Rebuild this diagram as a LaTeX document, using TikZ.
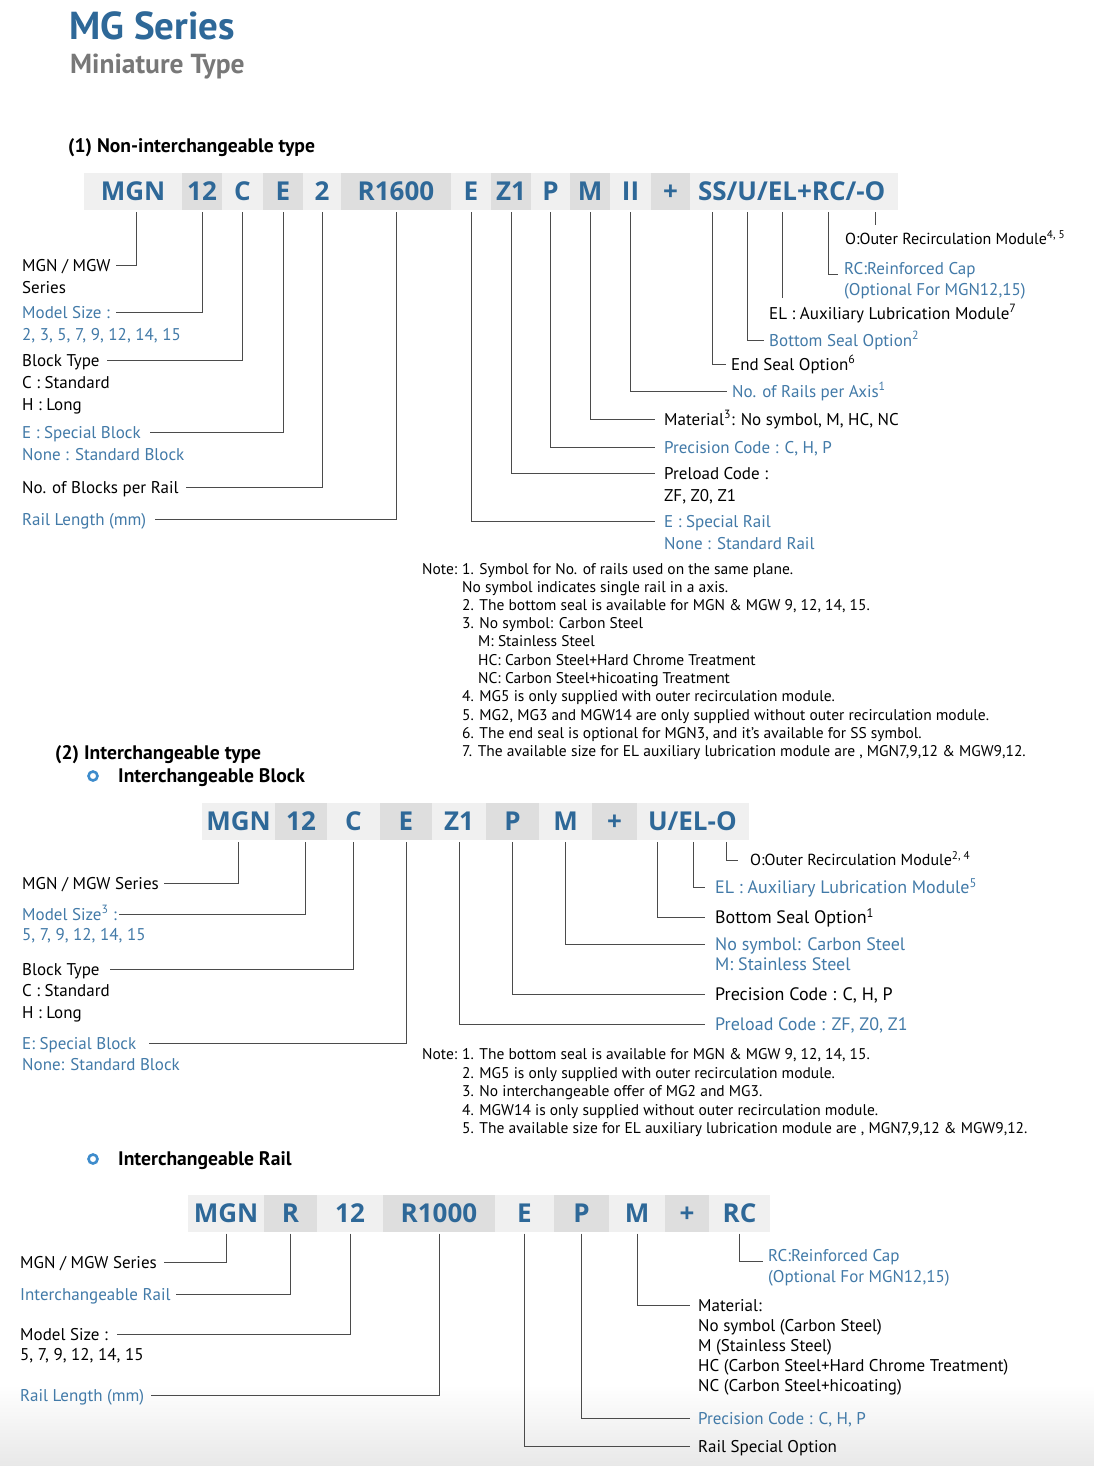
\documentclass[tikz,border=0pt]{standalone}
\usepackage{fontspec}
\setmainfont{PT Sans}
\newfontfamily\codefont{Open Sans}
\usepackage{tikz}
\usetikzlibrary{positioning}
\usepackage{xcolor}

\definecolor{mgblue}{RGB}{46,104,152}
\definecolor{optblue}{RGB}{66,122,168}
\definecolor{ringblue}{RGB}{62,140,204}
\definecolor{subgray}{RGB}{120,120,120}
\definecolor{barlight}{RGB}{240,240,240}
\definecolor{bardark}{RGB}{222,222,222}
\definecolor{leadgray}{RGB}{75,75,75}

\tikzset{
  codebox/.style={inner sep=0pt, outer sep=0pt, text=mgblue, text height=18.5pt, text depth=0pt,
    font=\codefont\bfseries\fontsize{26}{26}\selectfont},
  codel/.style={codebox, fill=barlight, minimum height=37pt},
  coded/.style={codebox, fill=bardark, minimum height=37pt},
  headtxt/.style={anchor=west, inner sep=0pt, text height=13.7pt, text depth=0pt,
    font=\bfseries\fontsize{19.6}{19.6}\selectfont},
  lab/.style={anchor=west, inner sep=0pt, text height=12pt, text depth=0pt, font=\fontsize{17}{17}\selectfont},
  labb/.style={lab, text=optblue},
  smalllab/.style={lab, text height=11.2pt, font=\fontsize{16}{16}\selectfont},
  biglab/.style={lab, text height=12.6pt, font=\fontsize{18}{18}\selectfont},
  biglabb/.style={biglab, text=optblue},
  notetxt/.style={anchor=west, inner sep=0pt, text height=10.8pt, text depth=0pt, font=\fontsize{15.5}{15.5}\selectfont},
  leader/.style={draw=leadgray, line width=1pt, shorten <=2pt},
  ringmark/.style={circle, draw=ringblue, line width=2.6pt, minimum size=9pt, inner sep=0pt},
}

\begin{document}
\begin{tikzpicture}[x=1pt,y=-1pt]
  \useasboundingbox (0,0) rectangle (1094,1466);
  \fill[white] (0,0) rectangle (1094,1466);
  \shade[top color=white, bottom color=black!9] (0,1385) rectangle (1094,1466);

  % titles
  \node[anchor=west, inner sep=0pt, text=mgblue, text height=27pt, text depth=0pt,
        font=\bfseries\fontsize{39}{39}\selectfont] (title) at (69,26) {MG Series};
  \node[anchor=west, inner sep=0pt, text=subgray, text height=19.2pt, text depth=0pt,
        font=\bfseries\fontsize{27.5}{27.5}\selectfont] (subtitle) at (70,64) {Miniature Type};

  % (1) non-interchangeable type
  \node[headtxt] (h1) at (68,146) {(1) Non-interchangeable type};

  \node[codel, minimum width=98pt, anchor=west] (a1) at (84,191.5) {MGN};
  \node[coded, minimum width=40pt, right=0pt of a1] (a2) {12};
  \node[codel, minimum width=41pt, right=0pt of a2] (a3) {C};
  \node[coded, minimum width=40pt, right=0pt of a3] (a4) {E};
  \node[codel, minimum width=38pt, right=0pt of a4] (a5) {2};
  \node[coded, minimum width=110pt, right=0pt of a5] (a6) {R1600};
  \node[codel, minimum width=40pt, right=0pt of a6] (a7) {E};
  \node[coded, minimum width=40pt, right=0pt of a7] (a8) {Z1};
  \node[codel, minimum width=39pt, right=0pt of a8] (a9) {P};
  \node[coded, minimum width=40pt, right=0pt of a9] (a10) {M};
  \node[codel, minimum width=41pt, right=0pt of a10] (a11) {II};
  \node[coded, minimum width=39pt, right=0pt of a11] (a12) {+};
  \node[codel, minimum width=208pt, right=0pt of a12] (a13) {};
  \node[codebox, anchor=west] (ss) at ([xshift=8pt]a13.west) {SS};
  \node[codebox, right=0pt of ss] (sl1) {/};
  \node[codebox, right=0pt of sl1] (u) {U};
  \node[codebox, right=0pt of u] (sl2) {/};
  \node[codebox, right=0pt of sl2] (el) {EL};
  \node[codebox, right=0pt of el] (pl) {+};
  \node[codebox, right=0pt of pl] (rc) {RC};
  \node[codebox, right=0pt of rc] (sl3) {/-};
  \node[codebox, right=0pt of sl3] (o) {O};

  % left labels
  \node[lab] (l1) at (22,265) {MGN / MGW};
  \node[lab] (l1b) at (22,287) {Series};
  \node[labb] (l2) at (22,312) {Model Size :};
  \node[labb] (l2b) at (22,334) {2, 3, 5, 7, 9, 12, 14, 15};
  \node[lab] (l3) at (22,360) {Block Type};
  \node[lab] (l3b) at (22,382) {C : Standard};
  \node[lab] (l3c) at (22,404) {H : Long};
  \node[labb] (l4) at (22,432) {E : Special Block};
  \node[labb] (l4b) at (22,454) {None : Standard Block};
  \node[lab] (l5) at (22,487) {No. of Blocks per Rail};
  \node[labb] (l6) at (22,519) {Rail Length (mm)};

  \draw[leader, shorten >=5pt] ([xshift=3pt]a1.south) |- (l1.east);
  \draw[leader, shorten >=6pt] (a2.south) |- (l2.east);
  \draw[leader, shorten >=7pt] (a3.south) |- (l3.east);
  \draw[leader, shorten >=9pt] (a4.south) |- (l4.east);
  \draw[leader, shorten >=7pt] (a5.south) |- (l5.east);
  \draw[leader, shorten >=9pt] (a6.south) |- (l6.east);

  % right labels
  \node[smalllab] (r1) at (845,239) {O:Outer Recirculation Module\textsuperscript{4, 5}};
  \node[labb] (r2) at (844,268) {RC:Reinforced Cap};
  \node[labb] (r2b) at (844,289) {(Optional For MGN12,15)};
  \node[lab] (r3) at (769,313) {EL : Auxiliary Lubrication Module\textsuperscript{7}};
  \node[labb] (r4) at (769,340) {Bottom Seal Option\textsuperscript{2}};
  \node[lab] (r5) at (731,364) {End Seal Option\textsuperscript{6}};
  \node[labb] (r6) at (732,391) {No. of Rails per Axis\textsuperscript{1}};
  \node[lab] (r7) at (664,419) {Material\textsuperscript{3}: No symbol, M, HC, NC};
  \node[labb] (r8) at (664,447) {Precision Code : C, H, P};
  \node[lab] (r9) at (664,473) {Preload Code :};
  \node[lab] (r9b) at (664,495) {ZF, Z0, Z1};
  \node[labb] (r10) at (664,521) {E : Special Rail};
  \node[labb] (r10b) at (664,543) {None : Standard Rail};

  \draw[leader, shorten >=8pt] (o |- a13.south) -- (o |- r1.north);
  \draw[leader, shorten >=6pt] (rc |- a13.south) |- (r2.south west);
  \draw[leader, shorten >=9pt] (el |- a13.south) -- (el |- r3.north);
  \draw[leader, shorten >=5pt] (u |- a13.south) |- (r4.west);
  \draw[leader, shorten >=5pt] (ss |- a13.south) |- (r5.west);
  \draw[leader, shorten >=5pt] (a11.south) |- (r6.west);
  \draw[leader, shorten >=9pt] (a10.south) |- (r7.west);
  \draw[leader, shorten >=9pt] (a9.south) |- (r8.west);
  \draw[leader, shorten >=9pt] (a8.south) |- (r9.west);
  \draw[leader, shorten >=9pt] (a7.south) |- (r10.west);

  % notes
  \node[notetxt] (n0) at (422,569) {Note:};
  \node[notetxt] (n1) at (462,569) {1. Symbol for No. of rails used on the same plane.};
  \node[notetxt] (n1b) at (462,587) {No symbol indicates single rail in a axis.};
  \node[notetxt] (n2) at (462,605) {2. The bottom seal is available for MGN \& MGW 9, 12, 14, 15.};
  \node[notetxt] (n3) at (462,623) {3. No symbol: Carbon Steel};
  \node[notetxt] (n3b) at (478,641) {M: Stainless Steel};
  \node[notetxt] (n3c) at (478,660) {HC: Carbon Steel+Hard Chrome Treatment};
  \node[notetxt] (n3d) at (478,678) {NC: Carbon Steel+hicoating Treatment};
  \node[notetxt] (n4) at (462,696) {4. MG5 is only supplied with outer recirculation module.};
  \node[notetxt] (n5) at (462,715) {5. MG2, MG3 and MGW14 are only supplied without outer recirculation module.};
  \node[notetxt] (n6) at (462,733) {6. The end seal is optional for MGN3, and it's available for SS symbol.};
  \node[notetxt] (n7) at (462,751) {7. The available size for EL auxiliary lubrication module are , MGN7,9,12 \& MGW9,12.};

  % (2) interchangeable type
  \node[headtxt] (h2) at (55,753) {(2) Interchangeable type};
  \node[ringmark] (dot1) at (93,776) {};
  \node[headtxt] (h2a) at (118,776) {Interchangeable Block};

  \node[codel, minimum width=73pt, anchor=west] (c1) at (202,821.5) {MGN};
  \node[coded, minimum width=52pt, right=0pt of c1] (c2) {12};
  \node[codel, minimum width=53pt, right=0pt of c2] (c3) {C};
  \node[coded, minimum width=52pt, right=0pt of c3] (c4) {E};
  \node[codel, minimum width=54pt, right=0pt of c4] (c5) {Z1};
  \node[coded, minimum width=53pt, right=0pt of c5] (c6) {P};
  \node[codel, minimum width=53pt, right=0pt of c6] (c7) {M};
  \node[coded, minimum width=45pt, right=0pt of c7] (c8) {+};
  \node[codel, minimum width=112pt, right=0pt of c8] (c9) {};
  \node[codebox, anchor=west] (u2) at ([xshift=11pt]c9.west) {U};
  \node[codebox, right=0pt of u2] (s21) {/};
  \node[codebox, right=0pt of s21] (el2) {EL};
  \node[codebox, right=0pt of el2] (s22) {-};
  \node[codebox, right=0pt of s22] (o2) {O};

  \node[lab] (m1) at (22,883) {MGN / MGW Series};
  \node[labb] (m2) at (22,914) {Model Size\textsuperscript{3} :};
  \node[labb] (m2b) at (22,934) {5, 7, 9, 12, 14, 15};
  \node[lab] (m3) at (22,969) {Block Type};
  \node[lab] (m3b) at (22,990) {C : Standard};
  \node[lab] (m3c) at (22,1012) {H : Long};
  \node[labb] (m4) at (22,1043) {E: Special Block};
  \node[labb] (m4b) at (22,1064) {None: Standard Block};

  \draw[leader, shorten >=5pt] (c1.south) |- (m1.east);
  \draw[leader, shorten >=2pt] ([xshift=4pt]c2.south) |- (m2.east);
  \draw[leader, shorten >=10pt] (c3.south) |- (m3.east);
  \draw[leader, shorten >=13pt] (c4.south) |- (m4.east);

  \node[smalllab] (k1) at (750,860) {O:Outer Recirculation Module\textsuperscript{2, 4}};
  \node[biglabb] (k2) at (715,887) {EL : Auxiliary Lubrication Module\textsuperscript{5}};
  \node[biglab] (k3) at (715,917) {Bottom Seal Option\textsuperscript{1}};
  \node[biglabb] (k4) at (715,944) {No symbol: Carbon Steel};
  \node[biglabb] (k4b) at (715,964) {M: Stainless Steel};
  \node[biglab] (k5) at (715,994) {Precision Code : C, H, P};
  \node[biglabb] (k6) at (715,1024) {Preload Code : ZF, Z0, Z1};

  \draw[leader, shorten >=12pt] (o2 |- c9.south) |- (k1.west);
  \draw[leader, shorten >=10pt] (el2 |- c9.south) |- (k2.west);
  \draw[leader, shorten >=10pt] (u2 |- c9.south) |- (k3.west);
  \draw[leader, shorten >=10pt] (c7.south) |- (k4.west);
  \draw[leader, shorten >=10pt] (c6.south) |- (k5.west);
  \draw[leader, shorten >=10pt] (c5.south) |- (k6.west);

  \node[notetxt] (t0) at (422,1054) {Note:};
  \node[notetxt] (t1) at (462,1054) {1. The bottom seal is available for MGN \& MGW 9, 12, 14, 15.};
  \node[notetxt] (t2) at (462,1073) {2. MG5 is only supplied with outer recirculation module.};
  \node[notetxt] (t3) at (462,1091) {3. No interchangeable offer of MG2 and MG3.};
  \node[notetxt] (t4) at (462,1110) {4. MGW14 is only supplied without outer recirculation module.};
  \node[notetxt] (t5) at (462,1128) {5. The available size for EL auxiliary lubrication module are , MGN7,9,12 \& MGW9,12.};

  % interchangeable rail
  \node[ringmark] (dot2) at (93,1159) {};
  \node[headtxt] (h3) at (118,1159) {Interchangeable Rail};

  \node[codel, minimum width=76pt, anchor=west] (d1) at (188,1213) {MGN};
  \node[coded, minimum width=53pt, right=0pt of d1] (d2) {R};
  \node[codel, minimum width=66pt, right=0pt of d2] (d3) {12};
  \node[coded, minimum width=112pt, right=0pt of d3] (d4) {R1000};
  \node[codel, minimum width=59pt, right=0pt of d4] (d5) {E};
  \node[coded, minimum width=55pt, right=0pt of d5] (d6) {P};
  \node[codel, minimum width=56pt, right=0pt of d6] (d7) {M};
  \node[coded, minimum width=44pt, right=0pt of d7] (d8) {+};
  \node[codel, minimum width=61pt, right=0pt of d8] (d9) {RC};

  \node[lab] (p1) at (20,1262) {MGN / MGW Series};
  \node[labb] (p2) at (20,1294) {Interchangeable Rail};
  \node[lab] (p3) at (20,1334) {Model Size :};
  \node[lab] (p3b) at (20,1354) {5, 7, 9, 12, 14, 15};
  \node[labb] (p4) at (20,1395) {Rail Length (mm)};

  \draw[leader, shorten >=7pt] (d1.south) |- (p1.east);
  \draw[leader, shorten >=5pt] (d2.south) |- (p2.east);
  \draw[leader, shorten >=9pt] (d3.south) |- (p3.east);
  \draw[leader, shorten >=7pt] (d4.south) |- (p4.east);

  \node[labb] (q1) at (768,1255) {RC:Reinforced Cap};
  \node[labb] (q1b) at (768,1276) {(Optional For MGN12,15)};
  \node[lab] (q2) at (698,1305) {Material:};
  \node[lab] (q2b) at (698,1325) {No symbol (Carbon Steel)};
  \node[lab] (q2c) at (698,1345) {M (Stainless Steel)};
  \node[lab] (q2d) at (698,1365) {HC (Carbon Steel+Hard Chrome Treatment)};
  \node[lab] (q2e) at (698,1385) {NC (Carbon Steel+hicoating)};
  \node[labb] (q3) at (698,1418) {Precision Code : C, H, P};
  \node[lab] (q4) at (698,1446) {Rail Special Option};

  \draw[leader, shorten >=5pt] (d9.south) |- (q1.south west);
  \draw[leader, shorten >=8pt] (d7.south) |- (q2.west);
  \draw[leader, shorten >=8pt] (d6.south) |- (q3.west);
  \draw[leader, shorten >=8pt] (d5.south) |- (q4.west);
\end{tikzpicture}
\end{document}
